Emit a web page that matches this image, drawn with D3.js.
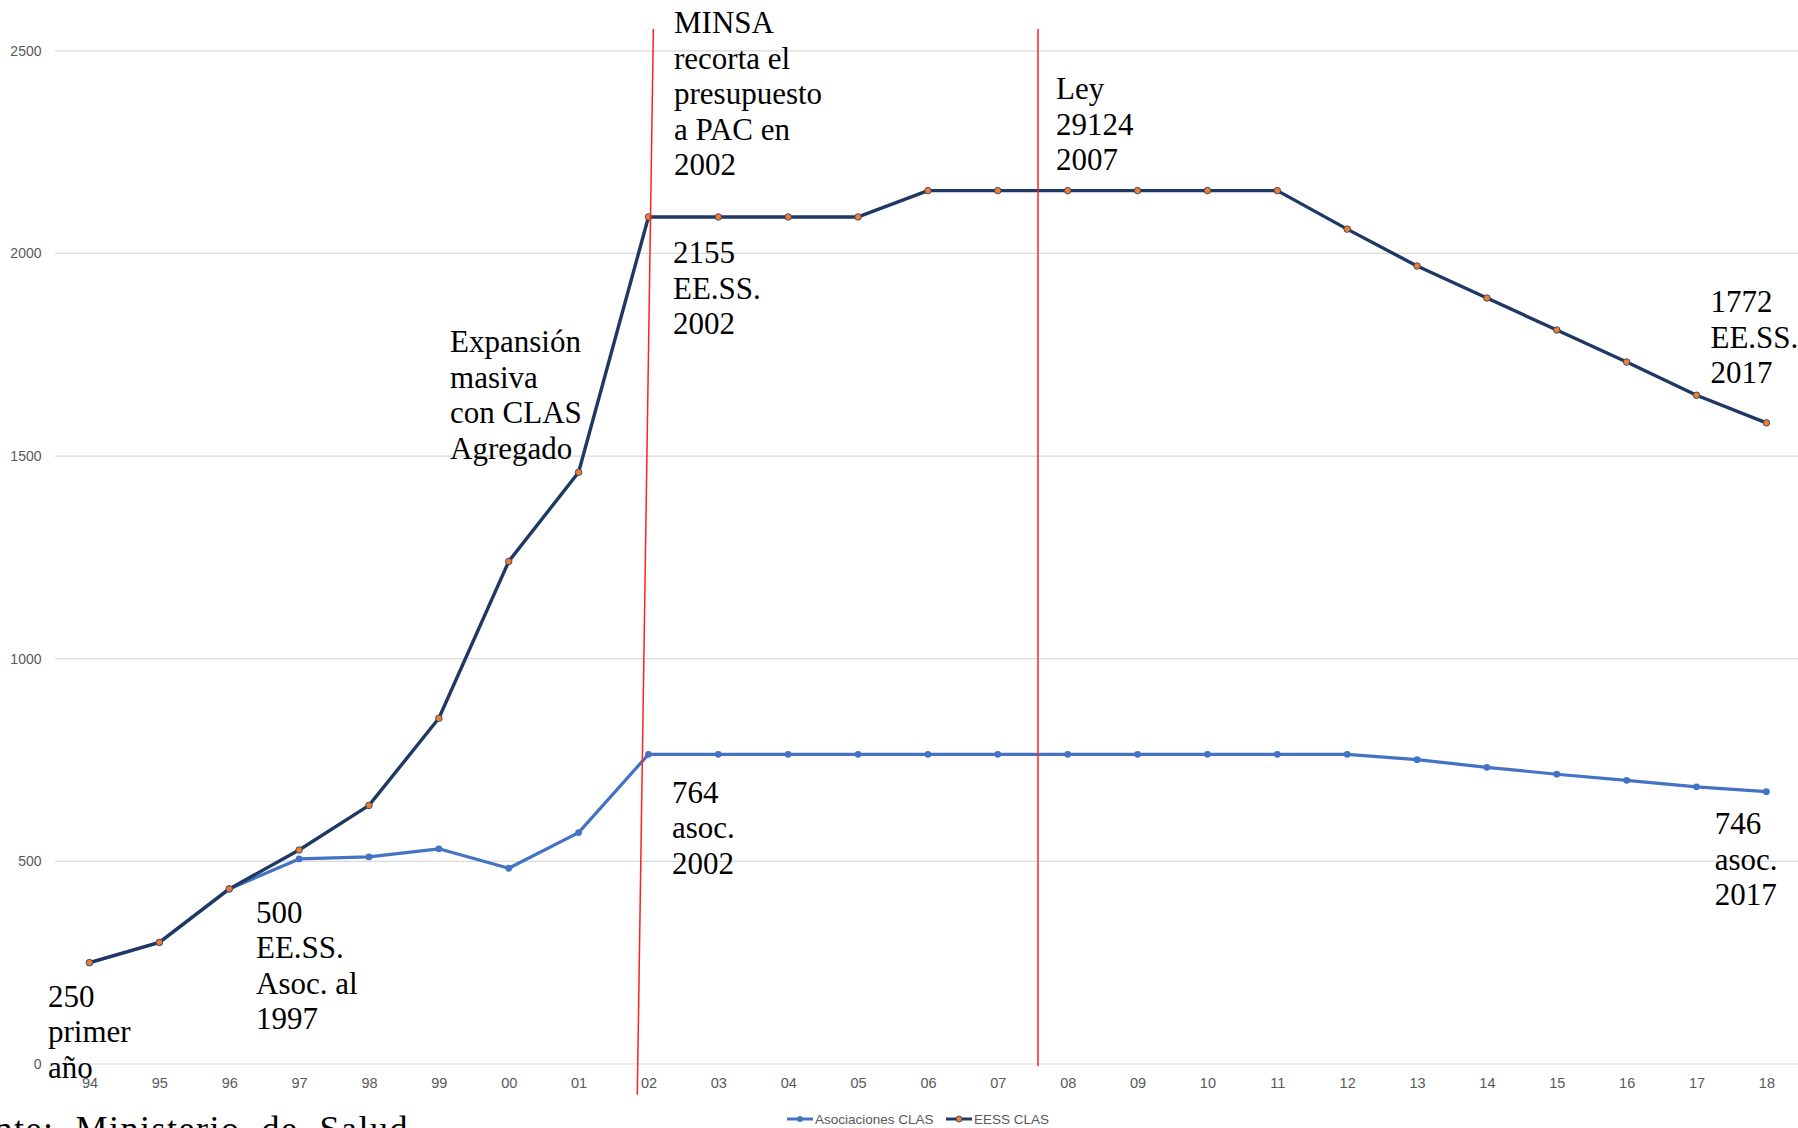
<!DOCTYPE html>
<html>
<head>
<meta charset="utf-8">
<script src="https://cdn.jsdelivr.net/npm/d3@7"></script>
<style>
  html, body { margin: 0; padding: 0; background: #ffffff; overflow: hidden; }
  svg { display: block; }
</style>
</head>
<body>
<svg id="chart" width="1798" height="1128"></svg>
<script>
// ---------------- DATA ----------------
const years = ["94","95","96","97","98","99","00","01","02","03","04","05","06","07","08","09","10","11","12","13","14","15","16","17","18"];
const asociacionesCLAS = [250,300,432,506,511,531,483,571,764,764,764,764,764,764,764,764,764,764,764,751,732,715,700,684,672];
const eessCLAS = [250,300,432,528,638,853,1240,1460,2090,2090,2090,2090,2155,2155,2155,2155,2155,2155,2060,1969,1890,1811,1732,1650,1582];
const yTicks = [0,500,1000,1500,2000,2500];
const seriesNames = ["Asociaciones CLAS","EESS CLAS"];

// event markers (x in year-index units, y in chart value units)
const eventLines = [
  { x1: 8.07, y1: 2554, x2: 7.84, y2: -76 },
  { x1: 13.575, y1: 2554, x2: 13.575, y2: -5 }
];

// annotation texts, anchored in data space (year index, value)
const annotations = [
  { lines: ["MINSA","recorta el","presupuesto","a PAC en","2002"], at: [8.366, 2543] },
  { lines: ["Ley","29124","2007"], at: [13.833, 2380] },
  { lines: ["2155","EE.SS.","2002"], at: [8.351, 1976] },
  { lines: ["Expansión","masiva","con CLAS","Agregado"], at: [5.16, 1756] },
  { lines: ["1772","EE.SS.","2017"], at: [23.2, 1855] },
  { lines: ["764","asoc.","2002"], at: [8.337, 644] },
  { lines: ["746","asoc.","2017"], at: [23.26, 567] },
  { lines: ["500","EE.SS.","Asoc. al","1997"], at: [2.383, 348] },
  { lines: ["250","primer","año"], at: [-0.594, 141] }
];
const sourceNote = "Fuente:  Ministerio  de  Salud";

// ---------------- LAYOUT ----------------
const W = 1798, H = 1128;
const plot = { left: 89.5, right: 1766.4, top: 50.8, bottom: 1064 };
const gridLeft = 55, gridRight = 1798;
const colAsoc = "#4472c4", colEess = "#1f3864", colMarker = "#ed7d31";
const serif = "'Liberation Serif', 'Times New Roman', serif";
const sans = "'Liberation Sans', Arial, sans-serif";
const annoSize = 31, annoLead = 35.5;

const svg = d3.select("#chart");

const x = d3.scalePoint().domain(years).range([plot.left, plot.right]);
const xi = d3.scaleLinear().domain([0, years.length - 1]).range([plot.left, plot.right]);
const y = d3.scaleLinear().domain([0, 2500]).range([plot.bottom, plot.top]);

// gridlines
svg.append("g").selectAll("line").data(yTicks).join("line")
  .attr("x1", gridLeft).attr("x2", gridRight)
  .attr("y1", d => y(d)).attr("y2", d => y(d))
  .attr("stroke", "#d9d9d9").attr("stroke-width", 1.2);

// y axis labels
const yAxis = d3.axisLeft(y).tickValues(yTicks).tickFormat(d3.format("d")).tickSize(0).tickPadding(0);
const gy = svg.append("g").attr("transform", "translate(41.5,0)").call(yAxis);
gy.select(".domain").remove();
gy.selectAll("text").attr("font-family", sans).attr("font-size", 14).attr("fill", "#595959");

// x axis labels
const xAxis = d3.axisBottom(x).tickSize(0).tickPadding(0);
const gx = svg.append("g").attr("transform", "translate(0,1078)").call(xAxis);
gx.select(".domain").remove();
gx.selectAll("text").attr("font-family", sans).attr("font-size", 14.5).attr("fill", "#595959");

// series lines
const line = d3.line().x((d, i) => x(years[i])).y(d => y(d));

svg.append("path").datum(asociacionesCLAS)
  .attr("d", line).attr("fill", "none").attr("stroke", colAsoc)
  .attr("stroke-width", 3.2).attr("stroke-linejoin", "round");
svg.append("g").selectAll("circle").data(asociacionesCLAS).join("circle")
  .attr("cx", (d, i) => x(years[i])).attr("cy", d => y(d)).attr("r", 3.4)
  .attr("fill", colAsoc);

svg.append("path").datum(eessCLAS)
  .attr("d", line).attr("fill", "none").attr("stroke", colEess)
  .attr("stroke-width", 3.4).attr("stroke-linejoin", "round");
svg.append("g").selectAll("circle").data(eessCLAS).join("circle")
  .attr("cx", (d, i) => x(years[i])).attr("cy", d => y(d)).attr("r", 3.3)
  .attr("fill", colMarker).attr("stroke", colEess).attr("stroke-width", 0.8);

// event lines
svg.append("g").selectAll("line").data(eventLines).join("line")
  .attr("x1", d => xi(d.x1)).attr("y1", d => y(d.y1))
  .attr("x2", d => xi(d.x2)).attr("y2", d => y(d.y2))
  .attr("stroke", "#ff2020").attr("stroke-width", 1.5);

// annotations
const ag = svg.append("g").attr("font-family", serif).attr("font-size", annoSize).attr("fill", "#000");
annotations.forEach(a => {
  const t = ag.append("text").attr("x", xi(a.at[0])).attr("y", y(a.at[1]));
  a.lines.forEach((l, k) => {
    t.append("tspan").attr("x", xi(a.at[0])).attr("dy", k === 0 ? 0 : annoLead).text(l);
  });
});

// source note (partly cut off at bottom-left like the original)
svg.append("text").attr("x", 409).attr("y", 1141).attr("text-anchor", "end")
  .attr("font-family", serif).attr("font-size", 36).attr("letter-spacing", 1.5)
  .attr("fill", "#000").style("white-space", "pre")
  .text(sourceNote);

// legend
const lg = svg.append("g").attr("transform", "translate(0,1119)");
const legendItems = [
  { name: seriesNames[0], x0: 787, color: colAsoc, marker: colAsoc, stroke: "none" },
  { name: seriesNames[1], x0: 946, color: colEess, marker: colMarker, stroke: colEess }
];
legendItems.forEach(it => {
  lg.append("line").attr("x1", it.x0).attr("x2", it.x0 + 26).attr("y1", 0).attr("y2", 0)
    .attr("stroke", it.color).attr("stroke-width", 3);
  lg.append("circle").attr("cx", it.x0 + 13).attr("cy", 0).attr("r", 3)
    .attr("fill", it.marker).attr("stroke", it.stroke).attr("stroke-width", 0.8);
  lg.append("text").attr("x", it.x0 + 28).attr("y", 0).attr("dy", "0.35em")
    .attr("font-family", sans).attr("font-size", 13.5).attr("fill", "#595959")
    .text(it.name);
});
</script>
</body>
</html>
